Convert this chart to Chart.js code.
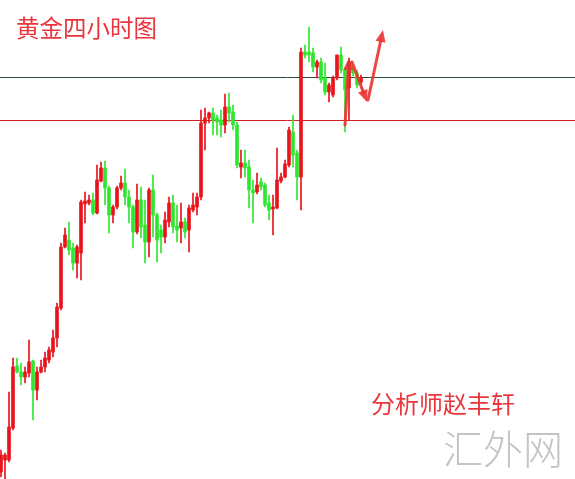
<!DOCTYPE html>
<html>
<head>
<meta charset="utf-8">
<script src="https://cdn.jsdelivr.net/npm/chart.js@4.4.1/dist/chart.umd.min.js"></script>
<style>
  body { margin: 0; background: #fff; }
  .wrap { position: relative; width: 575px; height: 479px; overflow: hidden; }
  .txt { position: absolute; font-family: "Noto Sans CJK SC", sans-serif; white-space: nowrap; }
  .title { left: 16px; top: 10px; font-size: 23.5px; color: #e8363c; }
  .author { left: 371px; top: 385px; font-size: 24px; color: #e8363c; }
  .mark { left: 443px; top: 418px; font-size: 40px; color: #c4c4c4; font-weight: 300; }
</style>
</head>
<body>
<div class="wrap">
  <canvas id="kChart" width="575" height="479"></canvas>
  <div class="txt title">黄金四小时图</div>
  <div class="txt author">分析师赵丰轩</div>
  <div class="txt mark">汇外网</div>
</div>
<script>
// 4小时K线 (数值为图上读出的相对价位)
const opens = [7, 19, 19, 51, 113, 107, 102, 106, 118, 89, 107, 112, 119, 127, 141, 171, 232, 239, 231, 216, 226, 275, 276, 279, 266, 298, 311, 291, 264, 272, 291, 296, 282, 272, 247, 279, 254, 237, 289, 264, 249, 242, 257, 276, 253, 251, 257, 249, 269, 272, 282, 356, 361, 366, 361, 359, 354, 372, 367, 354, 312, 316, 312, 289, 287, 297, 294, 276, 270, 271, 298, 302, 314, 347, 326, 302, 427, 427, 426, 412, 417, 401, 387, 384, 401, 424, 409, 391, 409, 406, 397];
const closes = [24, 24, 52, 112, 107, 102, 107, 117, 89, 107, 112, 121, 129, 141, 172, 232, 244, 229, 216, 232, 277, 278, 279, 266, 299, 311, 291, 264, 272, 291, 296, 282, 272, 247, 279, 252, 237, 289, 264, 239, 242, 259, 276, 252, 249, 257, 247, 271, 274, 282, 356, 361, 366, 359, 357, 354, 372, 366, 354, 314, 316, 311, 289, 286, 294, 292, 274, 269, 272, 299, 302, 315, 349, 324, 302, 427, 424, 424, 412, 417, 399, 387, 394, 401, 424, 409, 389, 417, 406, 394, 401];
const highs = [29, 26, 87, 121, 121, 116, 112, 139, 119, 112, 119, 127, 132, 149, 176, 236, 251, 257, 236, 234, 279, 287, 284, 286, 314, 317, 318, 293, 274, 293, 303, 310, 289, 274, 295, 292, 279, 291, 304, 266, 254, 267, 282, 284, 274, 276, 261, 274, 286, 286, 369, 371, 367, 371, 364, 369, 385, 386, 374, 357, 329, 329, 319, 299, 306, 301, 296, 284, 284, 331, 306, 319, 352, 364, 329, 431, 434, 452, 431, 419, 421, 416, 396, 403, 424, 432, 411, 421, 413, 409, 404];
const lows = [2, 0, 17, 49, 106, 94, 96, 102, 59, 79, 106, 107, 116, 122, 132, 169, 231, 224, 209, 201, 199, 256, 274, 264, 265, 297, 274, 246, 256, 270, 289, 274, 256, 231, 245, 241, 216, 222, 242, 217, 226, 236, 252, 246, 237, 236, 241, 227, 267, 264, 279, 329, 356, 344, 344, 342, 346, 357, 349, 311, 301, 302, 271, 256, 285, 289, 272, 259, 244, 270, 296, 301, 312, 312, 279, 269, 421, 417, 407, 401, 396, 384, 377, 382, 399, 406, 347, 359, 403, 391, 394];
const candleIndex = opens.map((_, i) => i);

// 两条水平线与箭头路线 (同一价位坐标)
const resistLine = 402;
const supportLine = 359;
const arrowPaths = [
  [[86, 354], [87, 421]],
  [[87.75, 417], [91.5, 377]],
  [[91.75, 379], [95.5, 449]]
];

const upColor = "#e8141c";
const downColor = "#2ee62e";
const candleColors = candleIndex.map((i) => (closes[i] >= opens[i] ? upColor : downColor));

const levelLines = {
  id: "levelLines",
  beforeDatasetsDraw(chart) {
    const { ctx, chartArea, scales } = chart;
    ctx.save();
    ctx.lineWidth = 1;
    [[resistLine, "#2f4a3c"], [supportLine, "#d42020"]].forEach(([v, c]) => {
      const y = Math.round(scales.y.getPixelForValue(v)) + 0.5;
      ctx.strokeStyle = c;
      ctx.beginPath();
      ctx.moveTo(chartArea.left, y);
      ctx.lineTo(chartArea.right, y);
      ctx.stroke();
    });
    ctx.restore();
  },
  afterDatasetsDraw(chart) {
    const { ctx, scales } = chart;
    ctx.save();
    ctx.strokeStyle = "rgba(235, 50, 50, 0.9)";
    ctx.fillStyle = "rgba(235, 50, 50, 0.9)";
    ctx.lineWidth = 3;
    ctx.lineCap = "round";
    arrowPaths.forEach(([a, b]) => {
      const x1 = scales.x.getPixelForValue(a[0]);
      const y1 = scales.y.getPixelForValue(a[1]);
      const x2 = scales.x.getPixelForValue(b[0]);
      const y2 = scales.y.getPixelForValue(b[1]);
      const ang = Math.atan2(y2 - y1, x2 - x1);
      const hx = x2 - 10 * Math.cos(ang);
      const hy = y2 - 10 * Math.sin(ang);
      ctx.beginPath();
      ctx.moveTo(x1, y1);
      ctx.lineTo(hx, hy);
      ctx.stroke();
      ctx.beginPath();
      ctx.moveTo(x2, y2);
      ctx.lineTo(x2 - 13 * Math.cos(ang - 0.4), y2 - 13 * Math.sin(ang - 0.4));
      ctx.lineTo(x2 - 13 * Math.cos(ang + 0.4), y2 - 13 * Math.sin(ang + 0.4));
      ctx.closePath();
      ctx.fill();
    });
    ctx.restore();
  }
};

const ctx1 = document.getElementById("kChart");
const kChart = new Chart(ctx1, {
  type: "bar",
  data: {
    datasets: [
      {
        label: "实体",
        data: candleIndex.map((i) => ({ x: i, y: [opens[i], closes[i]] })),
        backgroundColor: candleColors,
        barThickness: 3,
        grouped: false,
        borderWidth: 0,
      },
      {
        label: "影线",
        data: candleIndex.map((i) => ({ x: i, y: [lows[i], highs[i]] })),
        backgroundColor: candleColors,
        barThickness: 1,
        grouped: false,
        borderWidth: 0,
      },
    ],
  },
  options: {
    responsive: false,
    animation: false,
    layout: { padding: 0 },
    plugins: { legend: { display: false }, tooltip: { enabled: false } },
    scales: {
      x: { type: "linear", offset: false, min: -0.25, max: 143.5, display: false },
      y: { min: 0, max: 479, display: false },
    },
  },
  plugins: [levelLines],
});
</script>
</body>
</html>
